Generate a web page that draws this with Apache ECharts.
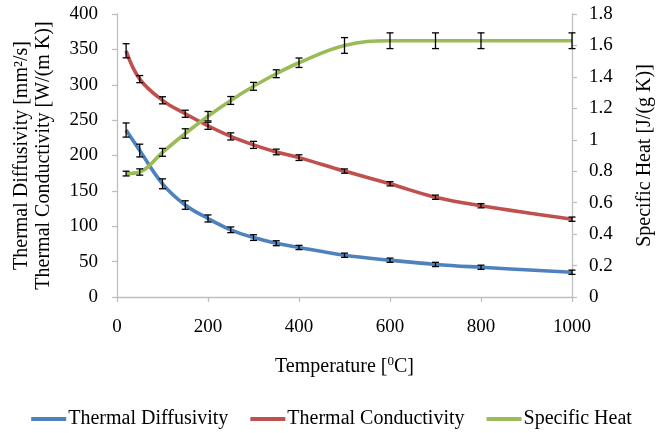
<!DOCTYPE html>
<html>
<head>
<meta charset="utf-8">
<script src="https://cdn.jsdelivr.net/npm/echarts@6/dist/echarts.min.js"></script>
<style>
  html, body { margin: 0; padding: 0; background: #fff; }
  #chart { width: 663px; height: 433px; }
</style>
</head>
<body>
<div id="chart"></div>
<script>
// ---- data ----
var temperatures = [20, 50, 100, 150, 200, 250, 300, 350, 400, 500, 600, 700, 800, 1000];
var diffusivity = [236, 207, 160, 130, 111, 95, 84, 76, 70, 59, 52, 46, 42, 35];
var diffusivityErr = [10, 9, 7, 6, 5, 4, 4, 3.5, 3, 3, 3, 3, 3, 3];
var conductivity = [348, 308, 278, 259, 242, 227, 215, 205, 197, 178, 160, 141, 129, 110];
var conductivityErr = [10, 5, 5, 5, 5, 5, 5, 4, 4, 3, 3, 3, 3, 3];
var specificHeat = [0.785, 0.795, 0.92, 1.04, 1.15, 1.25, 1.34, 1.42, 1.49, 1.60, 1.63, 1.63, 1.63, 1.63];
var specificHeatErr = [0.015, 0.02, 0.025, 0.03, 0.03, 0.025, 0.025, 0.025, 0.03, 0.05, 0.05, 0.05, 0.05, 0.05];
var seriesNames = ['Thermal Diffusivity', 'Thermal Conductivity', 'Specific Heat'];
var leftTicks = {min: 0, max: 400, interval: 50};
var rightTicks = {min: 0, max: 1.8, interval: 0.2};
var xTicks = {min: 0, max: 1000, interval: 200};

var FONT = '"Liberation Serif", "Times New Roman", serif';
var AXIS_COLOR = '#BFBFBF';
var colors = ['#4F81BD', '#C0504D', '#9BBB59'];

function pairs(xs, ys) { return xs.map(function (x, i) { return [x, ys[i]]; }); }
function triples(xs, ys, es) { return xs.map(function (x, i) { return [x, ys[i], es[i]]; }); }

function errorBarRender(params, api) {
  var x = api.value(0), y = api.value(1), e = api.value(2);
  var lo = api.coord([x, y - e]);
  var hi = api.coord([x, y + e]);
  var w = 3.5;
  var st = {stroke: '#000', lineWidth: 1.3};
  return {
    type: 'group',
    children: [
      {type: 'line', shape: {x1: lo[0], y1: lo[1], x2: hi[0], y2: hi[1]}, style: st},
      {type: 'line', shape: {x1: lo[0] - w, y1: lo[1], x2: lo[0] + w, y2: lo[1]}, style: st},
      {type: 'line', shape: {x1: hi[0] - w, y1: hi[1], x2: hi[0] + w, y2: hi[1]}, style: st}
    ]
  };
}

function lineSeries(name, data, color, yIdx) {
  return {
    name: name, type: 'line', yAxisIndex: yIdx, data: data,
    smooth: 0.4, showSymbol: false, symbol: 'none',
    lineStyle: {color: color, width: 3.6}, itemStyle: {color: color}, z: 2
  };
}
function errSeries(data, yIdx) {
  return {type: 'custom', yAxisIndex: yIdx, data: data, renderItem: errorBarRender, z: 5, silent: true};
}

var axisCommon = {
  axisLine: {show: true, lineStyle: {color: AXIS_COLOR, width: 1.3}},
  axisTick: {show: true, inside: false, length: 5, lineStyle: {color: AXIS_COLOR, width: 1.3}},
  splitLine: {show: false}
};

var chart = echarts.init(document.getElementById('chart'), null, {renderer: 'canvas'});
chart.setOption({
  animation: false,
  backgroundColor: '#fff',
  textStyle: {fontFamily: FONT},
  grid: {left: 117, right: 91, top: 14, bottom: 136},
  legend: {
    data: seriesNames,
    left: 'center', top: 404,
    icon: 'rect', itemWidth: 35, itemHeight: 4, itemGap: 22,
    textStyle: {fontFamily: FONT, fontSize: 20, color: '#000', padding: [0, 0, 0, -3]}
  },
  xAxis: Object.assign({
    type: 'value', min: xTicks.min, max: xTicks.max, interval: xTicks.interval,
    name: 'Temperature [{sup|0}C]', nameLocation: 'middle', nameGap: 58,
    nameTextStyle: {fontFamily: FONT, fontSize: 20, color: '#000',
      rich: {sup: {fontFamily: FONT, fontSize: 13, color: '#000', verticalAlign: 'top', padding: [0, 0, 10, 0]}}},
    axisLabel: {margin: 21, fontFamily: FONT, fontSize: 19, color: '#000',
      formatter: function (v) { return String(v); }}
  }, axisCommon),
  yAxis: [
    Object.assign({
      type: 'value', position: 'left', min: leftTicks.min, max: leftTicks.max, interval: leftTicks.interval,
      name: 'Thermal Diffusivity [mm\u00B2/s]\nThermal Conductivity [W/(m K)]',
      nameLocation: 'middle', nameGap: 62, nameRotate: 90,
      nameTextStyle: {fontFamily: FONT, fontSize: 20, color: '#000', lineHeight: 22},
      axisLabel: {margin: 19, fontFamily: FONT, fontSize: 19, color: '#000',
        formatter: function (v) { return String(v); }}
    }, axisCommon),
    Object.assign({
      type: 'value', position: 'right', min: rightTicks.min, max: rightTicks.max, interval: rightTicks.interval,
      name: 'Specific Heat [J/(g K)]', nameLocation: 'middle', nameGap: 63, nameRotate: 90,
      nameTextStyle: {fontFamily: FONT, fontSize: 20, color: '#000'},
      axisLabel: {margin: 17, fontFamily: FONT, fontSize: 19, color: '#000',
        formatter: function (v) { return String(Math.round(v * 10) / 10); }}
    }, axisCommon)
  ],
  series: [
    lineSeries(seriesNames[0], pairs(temperatures, diffusivity), colors[0], 0),
    lineSeries(seriesNames[1], pairs(temperatures, conductivity), colors[1], 0),
    lineSeries(seriesNames[2], pairs(temperatures, specificHeat), colors[2], 1),
    errSeries(triples(temperatures, diffusivity, diffusivityErr), 0),
    errSeries(triples(temperatures, conductivity, conductivityErr), 0),
    errSeries(triples(temperatures, specificHeat, specificHeatErr), 1)
  ]
});
</script>
</body>
</html>
